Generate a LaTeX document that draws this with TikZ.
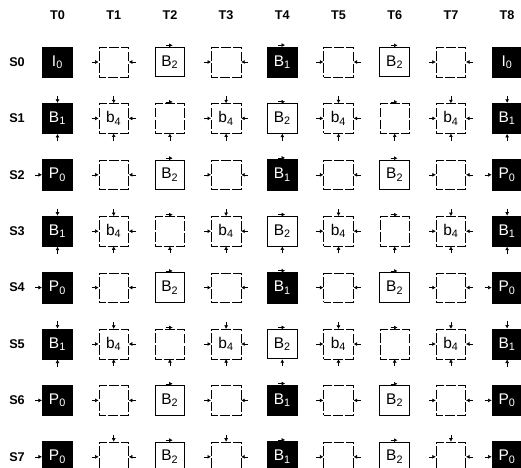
\documentclass[tikz,border=0pt]{standalone}
\usepackage{fontspec}
\setmainfont{Liberation Sans}
\usetikzlibrary{arrows.meta}
\begin{document}
\begin{tikzpicture}[x=1.405cm,y=-1.41cm,
  blk/.style={draw,fill=black,text=white,minimum size=7.6mm,inner sep=0pt,font=\fontsize{11}{11}\selectfont},
  dsh/.style={draw,dash pattern=on 7pt off 1.5pt,dash phase=2pt,minimum size=7.4mm,inner sep=0pt,font=\fontsize{11}{11}\selectfont},
  sld/.style={draw,semithick,minimum size=7.4mm,inner sep=0pt,font=\fontsize{11}{11}\selectfont},
  hd/.style={font=\bfseries\fontsize{9}{10}\selectfont},
  tk/.style={-{Latex[length=2.5pt,width=2.8pt]},thin}]
  \useasboundingbox (-1.023,-1.099) rectangle (8.247,7.181);
  % column and row labels
  \foreach \i in {0,...,8} \node[hd] (t\i) at (\i,-0.833) {T\i};
  \foreach \j in {0,...,7} \node[hd] (s\j) at (-0.72,\j) {S\j};
  % S0
  \node[blk] (c00) at (0,0) {I\textsubscript{0}};
  \node[dsh] (c10) at (1,0) {};
  \node[sld] (c20) at (2,0) {B\textsubscript{2}};
  \node[dsh] (c30) at (3,0) {};
  \node[blk] (c40) at (4,0) {B\textsubscript{1}};
  \node[dsh] (c50) at (5,0) {};
  \node[sld] (c60) at (6,0) {B\textsubscript{2}};
  \node[dsh] (c70) at (7,0) {};
  \node[blk] (c80) at (8,0) {I\textsubscript{0}};
  % S1
  \node[blk] (c01) at (0,1) {B\textsubscript{1}};
  \node[dsh] (c11) at (1,1) {b\textsubscript{4}};
  \node[dsh] (c21) at (2,1) {};
  \node[dsh] (c31) at (3,1) {b\textsubscript{4}};
  \node[sld] (c41) at (4,1) {B\textsubscript{2}};
  \node[dsh] (c51) at (5,1) {b\textsubscript{4}};
  \node[dsh] (c61) at (6,1) {};
  \node[dsh] (c71) at (7,1) {b\textsubscript{4}};
  \node[blk] (c81) at (8,1) {B\textsubscript{1}};
  % S2
  \node[blk] (c02) at (0,2) {P\textsubscript{0}};
  \node[dsh] (c12) at (1,2) {};
  \node[sld] (c22) at (2,2) {B\textsubscript{2}};
  \node[dsh] (c32) at (3,2) {};
  \node[blk] (c42) at (4,2) {B\textsubscript{1}};
  \node[dsh] (c52) at (5,2) {};
  \node[sld] (c62) at (6,2) {B\textsubscript{2}};
  \node[dsh] (c72) at (7,2) {};
  \node[blk] (c82) at (8,2) {P\textsubscript{0}};
  % S3
  \node[blk] (c03) at (0,3) {B\textsubscript{1}};
  \node[dsh] (c13) at (1,3) {b\textsubscript{4}};
  \node[dsh] (c23) at (2,3) {};
  \node[dsh] (c33) at (3,3) {b\textsubscript{4}};
  \node[sld] (c43) at (4,3) {B\textsubscript{2}};
  \node[dsh] (c53) at (5,3) {b\textsubscript{4}};
  \node[dsh] (c63) at (6,3) {};
  \node[dsh] (c73) at (7,3) {b\textsubscript{4}};
  \node[blk] (c83) at (8,3) {B\textsubscript{1}};
  % S4
  \node[blk] (c04) at (0,4) {P\textsubscript{0}};
  \node[dsh] (c14) at (1,4) {};
  \node[sld] (c24) at (2,4) {B\textsubscript{2}};
  \node[dsh] (c34) at (3,4) {};
  \node[blk] (c44) at (4,4) {B\textsubscript{1}};
  \node[dsh] (c54) at (5,4) {};
  \node[sld] (c64) at (6,4) {B\textsubscript{2}};
  \node[dsh] (c74) at (7,4) {};
  \node[blk] (c84) at (8,4) {P\textsubscript{0}};
  % S5
  \node[blk] (c05) at (0,5) {B\textsubscript{1}};
  \node[dsh] (c15) at (1,5) {b\textsubscript{4}};
  \node[dsh] (c25) at (2,5) {};
  \node[dsh] (c35) at (3,5) {b\textsubscript{4}};
  \node[sld] (c45) at (4,5) {B\textsubscript{2}};
  \node[dsh] (c55) at (5,5) {b\textsubscript{4}};
  \node[dsh] (c65) at (6,5) {};
  \node[dsh] (c75) at (7,5) {b\textsubscript{4}};
  \node[blk] (c85) at (8,5) {B\textsubscript{1}};
  % S6
  \node[blk] (c06) at (0,6) {P\textsubscript{0}};
  \node[dsh] (c16) at (1,6) {};
  \node[sld] (c26) at (2,6) {B\textsubscript{2}};
  \node[dsh] (c36) at (3,6) {};
  \node[blk] (c46) at (4,6) {B\textsubscript{1}};
  \node[dsh] (c56) at (5,6) {};
  \node[sld] (c66) at (6,6) {B\textsubscript{2}};
  \node[dsh] (c76) at (7,6) {};
  \node[blk] (c86) at (8,6) {P\textsubscript{0}};
  % S7
  \node[blk] (c07) at (0,7) {P\textsubscript{0}};
  \node[dsh] (c17) at (1,7) {};
  \node[sld] (c27) at (2,7) {B\textsubscript{2}};
  \node[dsh] (c37) at (3,7) {};
  \node[blk] (c47) at (4,7) {B\textsubscript{1}};
  \node[dsh] (c57) at (5,7) {};
  \node[sld] (c67) at (6,7) {B\textsubscript{2}};
  \node[dsh] (c77) at (7,7) {};
  \node[blk] (c87) at (8,7) {P\textsubscript{0}};
  % side arrows into the odd columns
  \foreach \i in {1,3,5,7} \foreach \j in {0,...,7} {
    \draw[tk] ([xshift=-5pt]c\i\j.west) -- (c\i\j.west);
    \draw[tk] ([xshift=5pt]c\i\j.east) -- (c\i\j.east);
  }
  % top and bottom arrows in S1, S3, S5
  \foreach \j in {1,3,5} {
    \foreach \i in {0,1,3,5,7,8}
      \draw[tk] ([yshift=5pt]c\i\j.north) -- (c\i\j.north);
    \foreach \i in {0,...,8}
      \draw[tk] ([yshift=-5pt]c\i\j.south) -- (c\i\j.south);
    \foreach \i in {2,4,6}
      \draw[tk] ([xshift=-3pt,yshift=1pt]c\i\j.north) -- ([xshift=2pt,yshift=1pt]c\i\j.north);
  }
  % top marks in the even rows
  \foreach \j in {0,2,4,6,7} \foreach \i in {2,4,6}
    \draw[tk] ([xshift=-3pt,yshift=1pt]c\i\j.north) -- ([xshift=2pt,yshift=1pt]c\i\j.north);
  \foreach \i in {1,3,7}
    \draw[tk] ([yshift=5pt]c\i7.north) -- (c\i7.north);
  % P0 entries
  \foreach \i in {0,8} \foreach \j in {2,4,6,7}
    \draw[tk] ([xshift=-5pt]c\i\j.west) -- (c\i\j.west);
\end{tikzpicture}
\end{document}
